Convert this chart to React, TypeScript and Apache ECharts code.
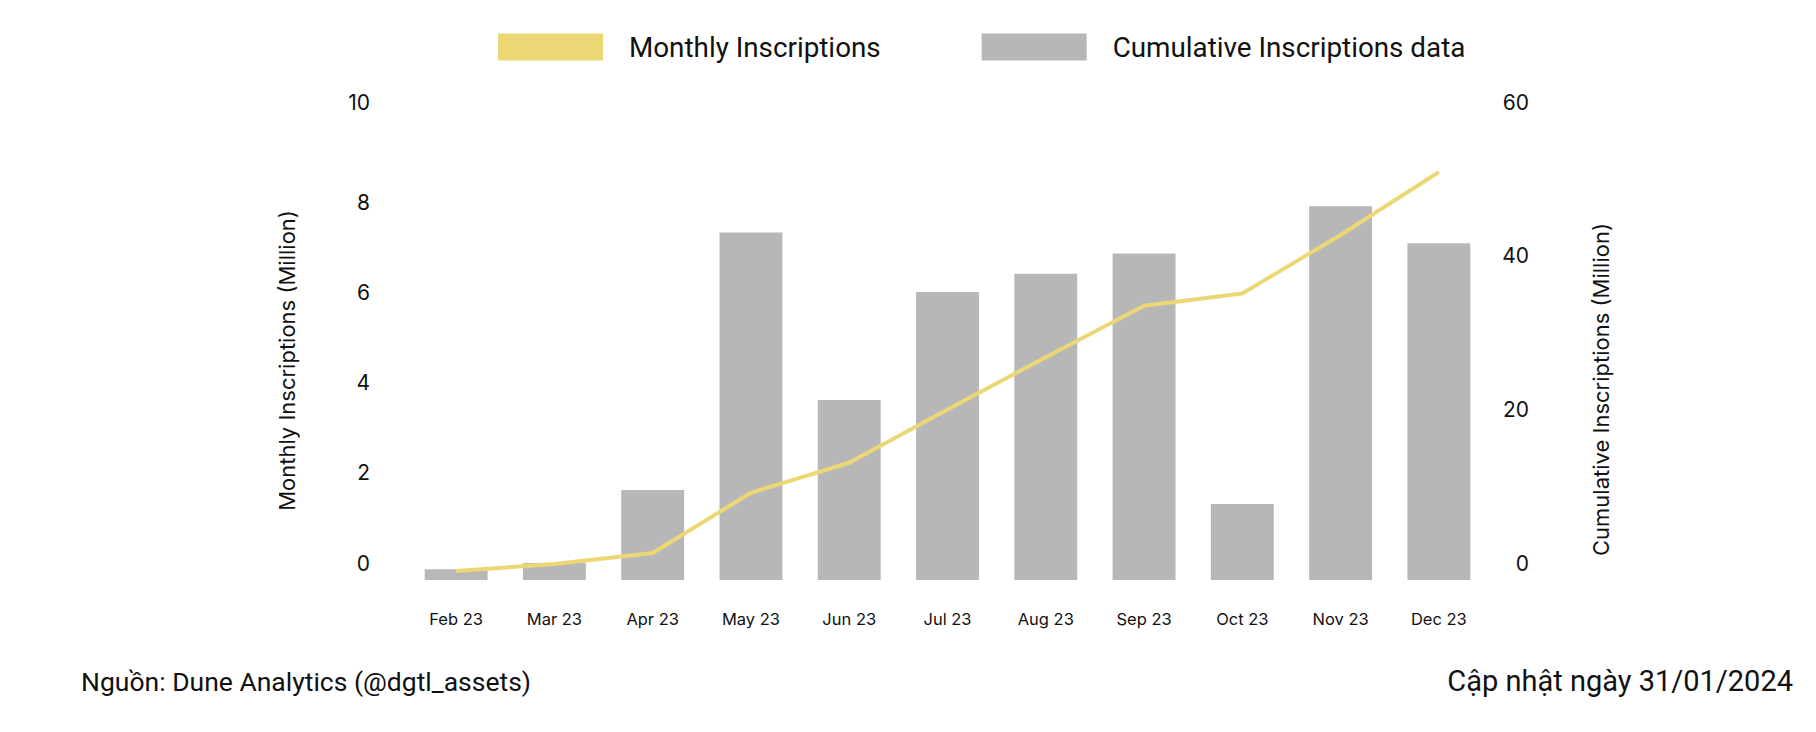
import React, { useEffect, useRef } from "react";
import * as echarts from "echarts";

const months = ["Feb 23", "Mar 23", "Apr 23", "May 23", "Jun 23", "Jul 23", "Aug 23", "Sep 23", "Oct 23", "Nov 23", "Dec 23"];
// grey bars, read on the left axis (million)
const monthlyValues = [0.24, 0.38, 2.0, 7.72, 4.0, 6.4, 6.8, 7.25, 1.69, 8.3, 7.48];
// yellow line, read on the right axis (million)
const cumulativeValues = [1.17, 2.09, 3.52, 11.35, 15.26, 22.2, 29.0, 35.7, 37.3, 44.9, 53.1];
const leftAxisMax = 10.24;
const leftLabelValues = [0, 2, 4, 6, 8, leftAxisMax];
const rightLabelValues = [0, 20, 40, 60];
const legendNames = ["Monthly Inscriptions", "Cumulative Inscriptions data"];
const leftAxisTitle = "Monthly Inscriptions (Million)";
const rightAxisTitle = "Cumulative Inscriptions (Million)";
const sourceNote = "Nguồn: Dune Analytics (@dgtl_assets)";
const updateNote = "Cập nhật ngày 31/01/2024";

const YELLOW = "#ebd875";
const GREY = "#b7b7b7";
const TEXT = "#111111";
const TICK_FONT = "Inter";
const DISPLAY_FONT = "Roboto";

export default function App() {
  const ref = useRef<HTMLDivElement>(null);
  useEffect(() => {
    if (!ref.current) return;
    const chart = echarts.init(ref.current, null, { renderer: "svg" });
    chart.setOption({
      animation: false,
      backgroundColor: "#ffffff",
      title: [
        {
          text: sourceNote,
          left: 81,
          top: 668,
          padding: 0,
          textStyle: { fontFamily: DISPLAY_FONT, fontSize: 26.5, fontWeight: "normal", color: TEXT },
        },
        {
          text: updateNote,
          right: 23,
          top: 666,
          padding: 0,
          textStyle: { fontFamily: DISPLAY_FONT, fontSize: 29, fontWeight: "normal", color: TEXT },
        },
      ],
      legend: {
        data: legendNames,
        left: 498,
        top: 33,
        padding: 0,
        icon: "rect",
        itemWidth: 105,
        itemHeight: 27,
        itemGap: 101,
        textStyle: { fontFamily: DISPLAY_FONT, fontSize: 27.8, color: TEXT, padding: [0, 0, 0, 21] },
      },
      grid: { left: 407, right: 328, top: 119, bottom: 152, containLabel: false },
      xAxis: {
        type: "category",
        data: months,
        axisLine: { show: false },
        axisTick: { show: false },
        axisLabel: { fontFamily: TICK_FONT, fontSize: 16.5, color: TEXT, margin: 30 },
        splitLine: { show: false },
      },
      yAxis: [
        {
          type: "value",
          min: 0,
          max: leftAxisMax,
          position: "left",
          splitLine: { show: false },
          axisLine: { show: false },
          axisTick: { show: false },
          axisLabel: {
            customValues: leftLabelValues,
            formatter: (v: number) => String(Math.round(v)),
            fontFamily: TICK_FONT,
            fontSize: 21,
            color: TEXT,
            margin: 37,
            verticalAlign: "bottom",
            lineHeight: 34,
          },
          name: leftAxisTitle,
          nameLocation: "middle",
          nameGap: 109,
          nameTextStyle: { fontFamily: TICK_FONT, fontSize: 22, color: TEXT, padding: [0, 22, 0, 0] },
        },
        {
          type: "value",
          min: 0,
          max: 60,
          position: "right",
          splitLine: { show: false },
          axisLine: { show: false },
          axisTick: { show: false },
          axisLabel: {
            customValues: rightLabelValues,
            fontFamily: TICK_FONT,
            fontSize: 21,
            color: TEXT,
            margin: 41,
            align: "right",
            verticalAlign: "bottom",
            lineHeight: 34,
          },
          name: rightAxisTitle,
          nameLocation: "middle",
          nameGap: 102,
          nameTextStyle: { fontFamily: TICK_FONT, fontSize: 22, color: TEXT, padding: [0, 80, 0, 0] },
        },
      ],
      series: [
        {
          name: legendNames[1],
          type: "bar",
          yAxisIndex: 0,
          data: monthlyValues,
          barWidth: "64%",
          itemStyle: { color: GREY },
        },
        {
          name: legendNames[0],
          type: "line",
          yAxisIndex: 1,
          data: cumulativeValues,
          symbol: "none",
          lineStyle: { color: YELLOW, width: 4 },
          itemStyle: { color: YELLOW },
        },
      ],
    });
    return () => chart.dispose();
  }, []);
  return <div ref={ref} style={{ position: "fixed", left: 0, top: 0, width: 1816, height: 732 }} />;
}
